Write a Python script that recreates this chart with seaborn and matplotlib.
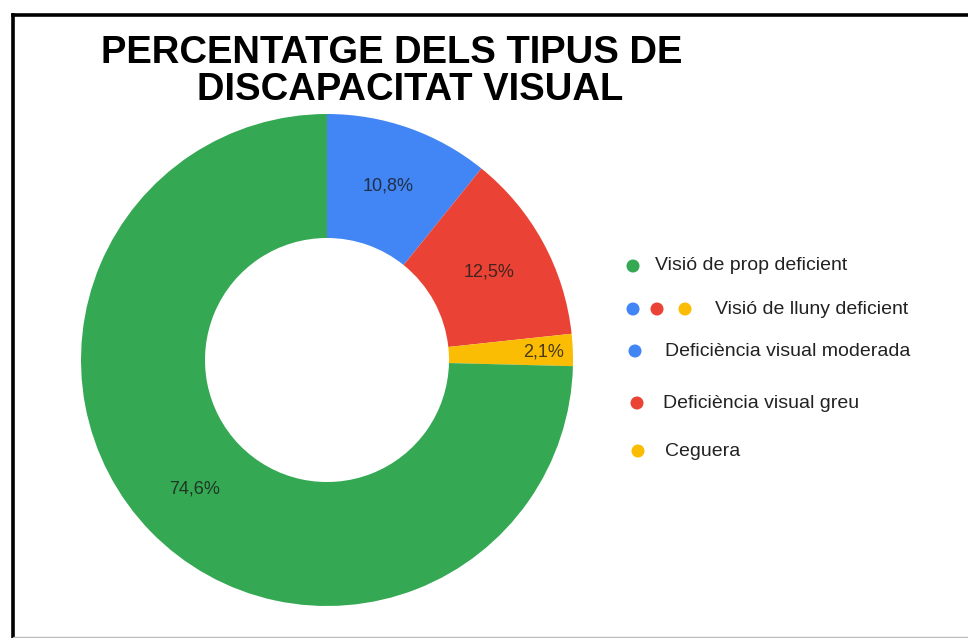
import matplotlib
matplotlib.use("Agg")
import matplotlib.pyplot as plt
from matplotlib.lines import Line2D
import seaborn as sns

# data
categories = ["Deficiència visual moderada", "Deficiència visual greu", "Ceguera", "Visió de prop deficient"]
percent = [10.8, 12.5, 2.1, 74.6]
colors = ["#4285F4", "#EA4335", "#FBBC04", "#34A853"]

legend_labels = ["Visió de prop deficient", "Visió de lluny deficient",
                 "Deficiència visual moderada", "Deficiència visual greu", "Ceguera"]
legend_colors = [["#34A853"], ["#4285F4", "#EA4335", "#FBBC04"],
                 ["#4285F4"], ["#EA4335"], ["#FBBC04"]]

title_lines = ["PERCENTATGE DELS TIPUS DE", "DISCAPACITAT VISUAL"]

sns.set_theme(style="white")
plt.rcParams['font.family'] = ['Liberation Sans', 'DejaVu Sans']

W, H = 968, 638
fig = plt.figure(figsize=(W / 100, H / 100), dpi=100)
fig.patch.set_facecolor("white")

# donut
cx, cy, r = 327, 360, 246
ax = fig.add_axes([(cx - r) / W, (H - cy - r) / H, 2 * r / W, 2 * r / H])
wedges, texts, autotexts = ax.pie(
    percent, colors=colors, startangle=90, counterclock=False,
    wedgeprops=dict(width=0.504, linewidth=0),
    autopct=lambda p: f"{p:.1f}%".replace(".", ","), pctdistance=0.75,
    textprops=dict(fontsize=13, color="#1a1a1a", alpha=0.8))
ax.set_xlim(-1, 1)
ax.set_ylim(-1, 1)
ax.set_aspect("equal")

# small slice label sits nearer the outer edge, like the original
x, y = autotexts[2].get_position()
autotexts[2].set_position((x + 0.13, y))

# overlay in pixel coords for title, legend, frame
ov = fig.add_axes([0, 0, 1, 1], zorder=5)
ov.set_xlim(0, W)
ov.set_ylim(H, 0)
ov.axis("off")
ov.patch.set_alpha(0)

ov.text(392, 63, title_lines[0], ha="center", va="baseline",
        fontsize=27.5, fontweight="bold", color="black")
ov.text(410, 100, title_lines[1], ha="center", va="baseline",
        fontsize=27.5, fontweight="bold", color="black")

row_y = [266, 309, 351, 403, 451]
text_x = [655, 715, 665, 663, 665]
dot_x = [[633], [633, 657, 685], [635], [637], [638]]
for lab, cols, y, tx, dxs in zip(legend_labels, legend_colors, row_y, text_x, dot_x):
    for c, dx in zip(cols, dxs):
        ov.scatter(dx, y, s=88, color=c, edgecolor="none")
    ov.text(tx, y, lab, ha="left", va="center", fontsize=14, color="#222222")

# frame
ov.add_line(Line2D([13, 13], [14.5, H], color="black", lw=2.6, solid_capstyle="projecting"))
ov.add_line(Line2D([13, W], [14.5, 14.5], color="black", lw=2.6, solid_capstyle="projecting"))
ov.add_line(Line2D([13, W], [636.5, 636.5], color="#bbbbbb", lw=1))

fig.savefig("out.png", dpi=100)
